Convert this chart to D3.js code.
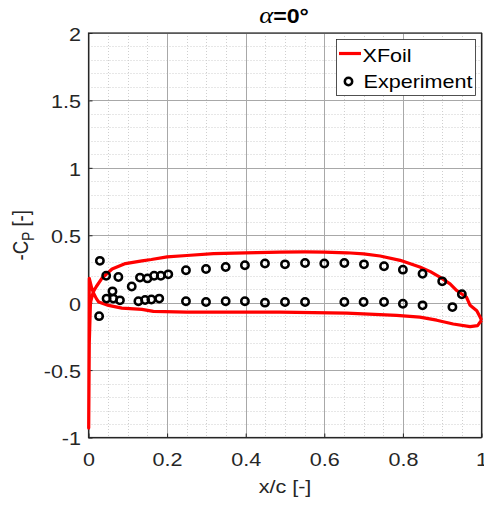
<!DOCTYPE html>
<html>
<head>
<meta charset="utf-8">
<script src="https://cdn.jsdelivr.net/npm/d3@7"></script>
<style>
  html, body { margin: 0; padding: 0; background: #fff; }
  svg { display: block; }
  text { font-family: "Liberation Sans", Arial, sans-serif; }
</style>
</head>
<body>
<svg id="chart" width="484" height="507"></svg>
<script>
// XFoil pressure distribution: one path, upper surface from TE to LE, then lower surface back to TE
const xfoilX = [1.0, 0.997, 0.988, 0.971, 0.962, 0.937, 0.92, 0.894, 0.87, 0.843, 0.793, 0.742, 0.70, 0.657, 0.60, 0.55, 0.487, 0.40, 0.318, 0.25, 0.20, 0.16, 0.136, 0.094, 0.06, 0.034, 0.02, 0.012, 0.005, 0.002, 0.0005,
                0.0005, 0.0015, 0.002, 0.008, 0.013, 0.02, 0.026, 0.051, 0.085, 0.136, 0.165, 0.25, 0.487, 0.657, 0.784, 0.843, 0.886, 0.928, 0.971, 0.99, 1.0];
const xfoilCp = [-0.13, -0.11, -0.06, -0.02, 0.04, 0.09, 0.14, 0.19, 0.23, 0.264, 0.314, 0.346, 0.362, 0.37, 0.375, 0.376, 0.375, 0.37, 0.364, 0.35, 0.34, 0.32, 0.31, 0.29, 0.25, 0.18, 0.12, 0.08, 0.0, -0.3, -0.93,
                 -0.93, -0.3, 0.18, 0.11, 0.07, 0.03, 0.005, -0.02, -0.04, -0.05, -0.065, -0.07, -0.07, -0.077, -0.094, -0.107, -0.13, -0.158, -0.178, -0.17, -0.13];

// Measured pressure taps: upper surface
const expUpperX = [0.029, 0.045, 0.076, 0.11, 0.131, 0.15, 0.167, 0.184, 0.203, 0.248, 0.299, 0.349, 0.398, 0.449, 0.50, 0.551, 0.60, 0.651, 0.701, 0.752, 0.80, 0.85, 0.90, 0.95];
const expUpperCp = [0.31, 0.20, 0.19, 0.12, 0.186, 0.18, 0.20, 0.20, 0.21, 0.24, 0.25, 0.264, 0.277, 0.29, 0.284, 0.294, 0.29, 0.294, 0.284, 0.27, 0.245, 0.215, 0.158, 0.062];
// Measured pressure taps: lower surface
const expLowerX = [0.027, 0.046, 0.061, 0.063, 0.08, 0.127, 0.144, 0.16, 0.18, 0.248, 0.299, 0.349, 0.398, 0.449, 0.50, 0.551, 0.651, 0.70, 0.752, 0.80, 0.85, 0.926];
const expLowerCp = [-0.10, 0.03, 0.084, 0.03, 0.017, 0.01, 0.02, 0.024, 0.03, 0.01, 0.005, 0.01, 0.01, 0.0, 0.005, 0.005, 0.005, 0.005, 0.005, -0.008, -0.02, -0.033];

const xTicks = [0, 0.2, 0.4, 0.6, 0.8, 1];
const yTicks = [-1, -0.5, 0, 0.5, 1, 1.5, 2];
const xMinor = d3.range(0, 1.0001, 0.05);
const yMinor = d3.range(-1, 2.0001, 0.1);

const svg = d3.select("#chart");
const plotL = 88.5, plotR = 481.5, plotT = 33, plotB = 437.5;
const FS = 18.6;      // base font size
const SX = 1.16;      // horizontal text stretch

const x = d3.scaleLinear().domain([0, 1]).range([plotL, plotR]);
const y = d3.scaleLinear().domain([-1, 2]).range([plotB, plotT]);

const axisColor = "#262626";

// minor grid (dotted)
const gMinor = svg.append("g");
gMinor.selectAll("line.vx").data(xMinor).join("line")
  .attr("x1", d => Math.round(x(d)) + 0.5).attr("x2", d => Math.round(x(d)) + 0.5)
  .attr("y1", plotT).attr("y2", plotB)
  .attr("stroke", "#cfcfcf").attr("stroke-width", 1).attr("stroke-dasharray", "1,2");
gMinor.selectAll("line.hy").data(yMinor).join("line")
  .attr("y1", d => Math.round(y(d)) + 0.5).attr("y2", d => Math.round(y(d)) + 0.5)
  .attr("x1", plotL).attr("x2", plotR)
  .attr("stroke", "#cfcfcf").attr("stroke-width", 1).attr("stroke-dasharray", "1,2");

// major grid (solid)
const gMajor = svg.append("g");
gMajor.selectAll("line.vx").data(xTicks).join("line")
  .attr("x1", d => Math.round(x(d)) + 0.5).attr("x2", d => Math.round(x(d)) + 0.5)
  .attr("y1", plotT).attr("y2", plotB)
  .attr("stroke", "#a8a8a8").attr("stroke-width", 1);
gMajor.selectAll("line.hy").data(yTicks).join("line")
  .attr("y1", d => Math.round(y(d)) + 0.5).attr("y2", d => Math.round(y(d)) + 0.5)
  .attr("x1", plotL).attr("x2", plotR)
  .attr("stroke", "#a8a8a8").attr("stroke-width", 1);

// axes with inward ticks
const fmt = d => String(d);
const xAxis = svg.append("g").attr("transform", `translate(0,${plotB})`)
  .call(d3.axisBottom(x).tickValues(xTicks).tickFormat(fmt).tickSizeInner(-4).tickSizeOuter(0));
const yAxis = svg.append("g").attr("transform", `translate(${plotL},0)`)
  .call(d3.axisLeft(y).tickValues(yTicks).tickFormat(fmt).tickSizeInner(-4).tickSizeOuter(0));
[xAxis, yAxis].forEach(g => {
  g.select(".domain").remove();
  g.selectAll("line").attr("stroke", axisColor);
  g.selectAll("text").attr("fill", axisColor).style("font-size", FS + "px")
    .style("font-family", "'Liberation Sans', Arial, sans-serif");
});
xAxis.selectAll("text").attr("y", 29).attr("dy", null).attr("transform", `scale(${SX},1)`);
yAxis.selectAll("text").attr("x", -7.5 / SX).attr("dy", "0.4em").attr("transform", `scale(${SX},1)`);

// box
svg.append("rect").attr("x", plotL).attr("y", plotT)
  .attr("width", plotR - plotL).attr("height", plotB - plotT)
  .attr("fill", "none").attr("stroke", axisColor).attr("stroke-width", 1.2);

// XFoil curve
const xfoilPts = xfoilX.map((d, i) => [d, xfoilCp[i]]);
svg.append("path")
  .datum(xfoilPts)
  .attr("d", d3.line().x(d => x(d[0])).y(d => y(d[1])).curve(d3.curveLinear))
  .attr("fill", "none").attr("stroke", "#ff0000").attr("stroke-width", 3.2)
  .attr("stroke-linejoin", "round");

// experimental points
const expPts = expUpperX.map((d, i) => [d, expUpperCp[i]])
  .concat(expLowerX.map((d, i) => [d, expLowerCp[i]]));
svg.append("g").selectAll("circle").data(expPts).join("circle")
  .attr("cx", d => x(d[0])).attr("cy", d => y(d[1])).attr("r", 3.7)
  .attr("fill", "none").attr("stroke", "#000").attr("stroke-width", 2.5);

// stretched text helper
function label(px, py, extra = "") {
  return svg.append("text").attr("transform", `translate(${px},${py}) ${extra} scale(${SX},1)`);
}

// title
const title = label(284, 23).attr("text-anchor", "middle")
  .style("font-size", "20px").style("font-weight", "bold").attr("fill", "#000");
title.append("tspan").text("α").style("font-family", "'Liberation Serif', serif").style("font-style", "italic").style("font-weight", "normal").style("font-size", "23px");
title.append("tspan").text("=0°");

// axis labels
label(285, 493).attr("text-anchor", "middle")
  .style("font-size", FS + "px").attr("fill", axisColor).text("x/c [-]");
const yl = svg.append("text")
  .attr("transform", `translate(28,${(plotT + plotB) / 2}) rotate(-90) scale(1,${SX})`)
  .attr("text-anchor", "middle").style("font-size", FS + "px").attr("fill", axisColor);
yl.append("tspan").text("-C");
yl.append("tspan").text("P").attr("dy", 5).style("font-size", "13.5px");
yl.append("tspan").text(" [-]").attr("dy", -5);

// legend
const lg = svg.append("g");
lg.append("rect").attr("x", 336.5).attr("y", 39.5).attr("width", 139).attr("height", 56)
  .attr("fill", "#fff").attr("stroke", axisColor).attr("stroke-width", 0.8);
lg.append("line").attr("x1", 339).attr("x2", 361).attr("y1", 53.5).attr("y2", 53.5)
  .attr("stroke", "#ff0000").attr("stroke-width", 3.2);
label(362.5, 61.5).style("font-size", FS + "px").attr("fill", "#000").text("XFoil");
lg.append("circle").attr("cx", 348.5).attr("cy", 81.5).attr("r", 3.7)
  .attr("fill", "none").attr("stroke", "#000").attr("stroke-width", 2.5);
label(363.5, 88).style("font-size", FS + "px").attr("fill", "#000").text("Experiment");
</script>
</body>
</html>
